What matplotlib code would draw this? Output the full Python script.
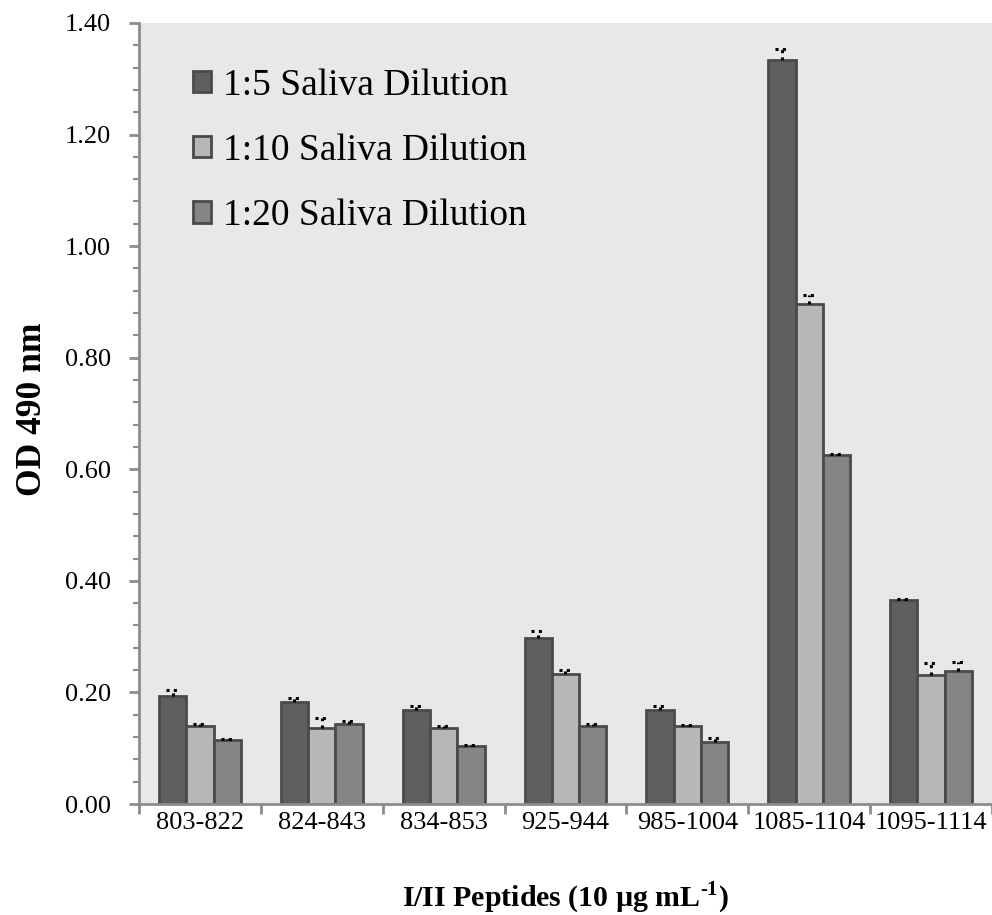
import numpy as np
import matplotlib
matplotlib.use("Agg")
import matplotlib.pyplot as plt
from matplotlib.ticker import MultipleLocator, FixedLocator

plt.rcParams["font.family"] = "Liberation Serif"
plt.rcParams["mathtext.fontset"] = "custom"
plt.rcParams["mathtext.rm"] = "Liberation Serif:bold"
plt.rcParams["mathtext.bf"] = "Liberation Serif:bold"

## ELISA readings per peptide
peptides = ["803-822", "824-843", "834-853", "925-944", "985-1004", "1085-1104", "1095-1114"]
dil_labels = ["1:5 Saliva Dilution", "1:10 Saliva Dilution", "1:20 Saliva Dilution"]
od_1_5 = [0.194, 0.183, 0.168, 0.297, 0.168, 1.334, 0.365]
od_1_10 = [0.140, 0.136, 0.136, 0.233, 0.140, 0.897, 0.231]
od_1_20 = [0.115, 0.143, 0.104, 0.140, 0.111, 0.626, 0.239]
err_1_5 = [0.011, 0.007, 0.007, 0.013, 0.007, 0.019, 0.003]
err_1_10 = [0.004, 0.018, 0.004, 0.007, 0.002, 0.015, 0.022]
err_1_20 = [0.001, 0.006, 0.002, 0.004, 0.008, 0.001, 0.015]

series = [od_1_5, od_1_10, od_1_20]
errors = [err_1_5, err_1_10, err_1_20]
colors = ["#5f5f5f", "#b7b7b7", "#858585"]

fig = plt.figure(figsize=(9.92, 9.15), dpi=100)
ax = fig.add_axes([0.1401, 0.1213, 0.8599, 0.8536])
ax.set_facecolor("#e8e8e8")

x = np.arange(len(peptides))
w = 0.224
dots = (0, (1, 1.4))
for j in range(3):
    pos = x + (j - 1) * w
    ax.bar(pos, series[j], width=w, color=colors[j], edgecolor="#4a4a4a",
           linewidth=2, label=dil_labels[j], zorder=2)
    # upper error bars only, dotted like the spreadsheet export
    top = np.array(series[j]) + np.array(errors[j])
    ax.vlines(pos, series[j], top, colors="black", linestyles=dots, linewidth=2.2, zorder=3)
    ax.hlines(top, pos - 0.055, pos + 0.055, colors="black", linestyles=dots, linewidth=2.2, zorder=3)

ax.set_xlim(-0.5, len(peptides) - 0.5)
ax.set_ylim(0, 1.40)
ax.yaxis.set_major_locator(MultipleLocator(0.2))
ax.yaxis.set_minor_locator(MultipleLocator(0.04))
ax.set_yticklabels(["%.2f" % v for v in ax.get_yticks()])

ax.set_xticks(x)
ax.set_xticklabels(peptides)
ax.xaxis.set_minor_locator(FixedLocator(np.arange(-0.5, len(peptides), 1.0)))
ax.tick_params(axis="x", which="major", length=0, pad=6, labelsize=19)
ax.tick_params(axis="x", which="minor", length=7, width=2, color="#8c8c8c")
ax.tick_params(axis="y", which="major", length=7, width=2, color="#8c8c8c", pad=13, labelsize=19)
ax.tick_params(axis="y", which="minor", length=4, width=1.5, color="#8c8c8c")

for s in ["top", "right"]:
    ax.spines[s].set_visible(False)
for s in ["left", "bottom"]:
    ax.spines[s].set_color("#8c8c8c")
    ax.spines[s].set_linewidth(2)

ax.set_ylabel("OD 490 nm", fontsize=25.5, fontweight="bold")
ax.yaxis.set_label_coords(-0.105, 0.505)
ax.set_xlabel(r"I/II Peptides (10 µg mL$^{\text{-1}}$)", fontsize=21.5, fontweight="bold")
ax.xaxis.set_label_coords(0.5, -0.097)

ax.legend(loc="upper left", bbox_to_anchor=(0.063, 0.942), frameon=False, fontsize=27,
          handlelength=0.5, handleheight=0.5, handletextpad=0.3, labelspacing=0.82,
          borderpad=0, borderaxespad=0)

fig.savefig("out.png", dpi=100)
